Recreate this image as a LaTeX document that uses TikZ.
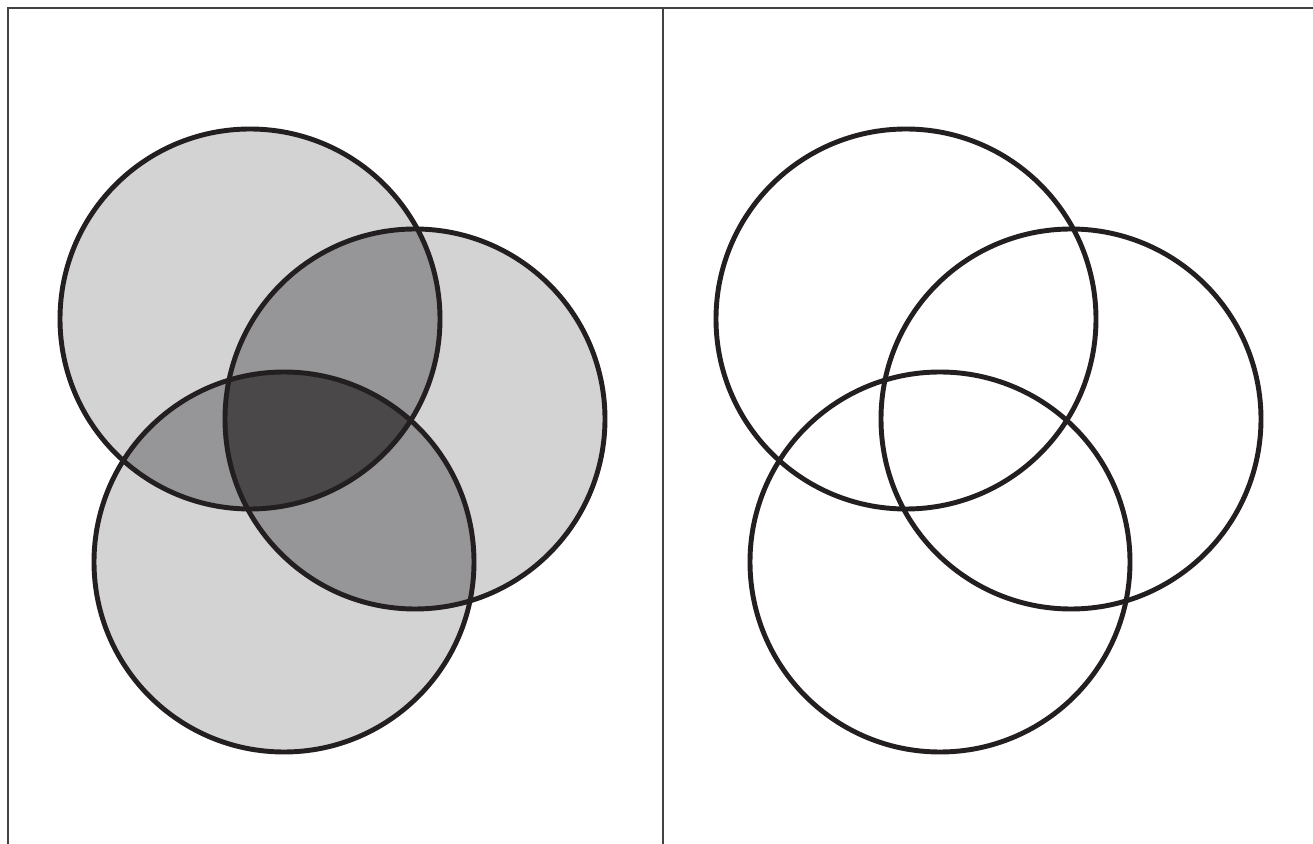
\documentclass[tikz,border=0pt]{standalone}
\usepackage{xcolor}
\usepackage{tikz}
\usetikzlibrary{calc}
\definecolor{lightfill}{RGB}{211,211,211}
\definecolor{midfill}{RGB}{150,149,151}
\definecolor{darkfill}{RGB}{75,72,73}
\definecolor{ringline}{RGB}{35,31,32}
\tikzset{
  ring/.style={draw=ringline, line width=2.8pt},
  frame/.style={draw=ringline!85, line width=0.8pt},
}

\begin{document}
\begin{tikzpicture}[x=0.02cm, y=-0.02cm]
  \useasboundingbox (0,0) rectangle (1313,844);
  \def\rr{190}
  % shaded diagram
  \coordinate (A) at (250,319);
  \coordinate (B) at (415,419);
  \coordinate (C) at (284,562);
  % plain diagram
  \coordinate (A2) at ($(A)+(656,0)$);
  \coordinate (B2) at ($(B)+(656,0)$);
  \coordinate (C2) at ($(C)+(656,0)$);
  % frame
  \coordinate (TL) at (8,8);
  \coordinate (TR) at (1313,8);
  \coordinate (BL) at (8,844);
  \coordinate (MT) at (663,8);
  \coordinate (MB) at (663,844);
  \draw[frame] (BL) -- (TL) -- (TR);
  \draw[frame] (MT) -- (MB);
  % regions
  \fill[lightfill] (A) circle (\rr) (B) circle (\rr) (C) circle (\rr);
  \begin{scope}
    \clip (A) circle (\rr);
    \fill[midfill] (B) circle (\rr) (C) circle (\rr);
  \end{scope}
  \begin{scope}
    \clip (B) circle (\rr);
    \fill[midfill] (C) circle (\rr);
  \end{scope}
  \begin{scope}
    \clip (A) circle (\rr);
    \clip (B) circle (\rr);
    \fill[darkfill] (C) circle (\rr);
  \end{scope}
  % outlines
  \foreach \c in {A,B,C,A2,B2,C2}
    \draw[ring] (\c) circle (\rr);
\end{tikzpicture}
\end{document}
